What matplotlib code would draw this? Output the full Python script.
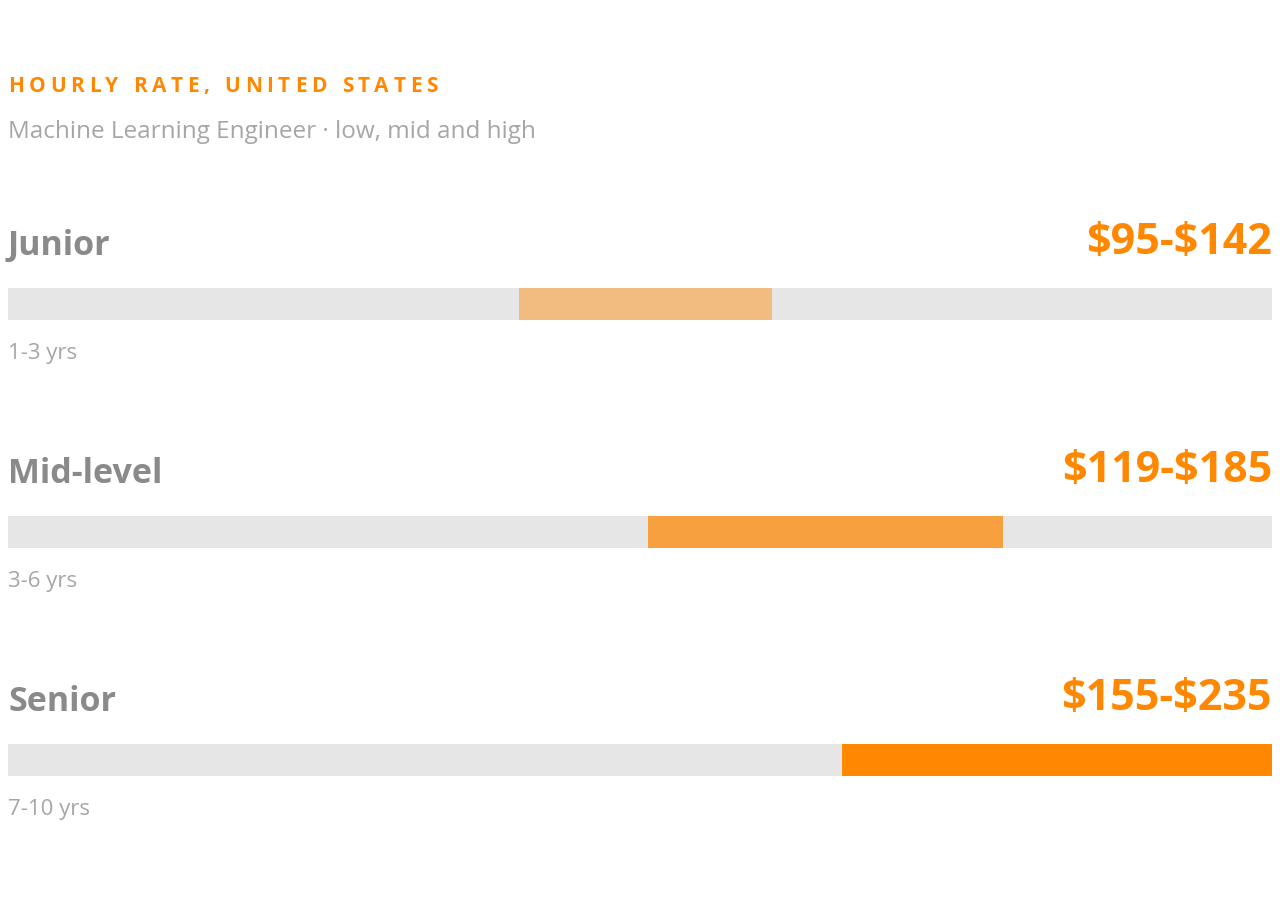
import matplotlib
matplotlib.use("Agg")
import matplotlib.pyplot as plt
from matplotlib.patches import Rectangle

levels = ["Junior", "Mid-level", "Senior"]
years = ["1-3 yrs", "3-6 yrs", "7-10 yrs"]
low = [95, 119, 155]
high = [142, 185, 235]
colors = ["#F2BC80", "#F7A040", "#FF8800"]
xmax = 235

W, H = 1280, 920
fig = plt.figure(figsize=(12.8, 9.2), dpi=100)
ax = fig.add_axes([8 / W, 0, 1264 / W, 1])
ax.set_xlim(0, xmax)
ax.set_ylim(H, 0)
ax.axis("off")
FONT = "Open Sans"

fig.canvas.draw()
r = fig.canvas.get_renderer()
title = "HOURLY RATE, UNITED STATES"
xpix = 8
for ch in title:
    t = fig.text(xpix / W, 1 - 86 / H, ch, fontsize=15, fontweight="bold",
                 color="#FF8800", family=FONT, va="center", ha="left")
    w = t.get_window_extent(r).width if ch != " " else 6
    xpix += w + 4.6
fig.text(8 / W, 1 - 132 / H, "Machine Learning Engineer · low, mid and high",
         fontsize=17.5, color="#A6A6A6", family=FONT, va="center", ha="left")

bar_tops = [289, 517, 745]
for i, top in enumerate(bar_tops):
    ax.add_patch(Rectangle((0, top), xmax, 32, color="#E6E6E6", lw=0))
    ax.add_patch(Rectangle((low[i], top), high[i] - low[i], 32, color=colors[i], lw=0))
    ax.text(0, top - 43, levels[i], fontsize=24.5, fontweight="bold", color="#8A8A8A",
            family=FONT, va="center", ha="left")
    ax.text(xmax, top - 46, f"\\${low[i]}-\\${high[i]}", fontsize=31, fontweight="bold",
            color="#FF8800", family=FONT, va="center", ha="right")
    ax.text(0, top + 65, years[i], fontsize=16, color="#A6A6A6",
            family=FONT, va="center", ha="left")

fig.savefig("out.png", dpi=100, facecolor="white")
